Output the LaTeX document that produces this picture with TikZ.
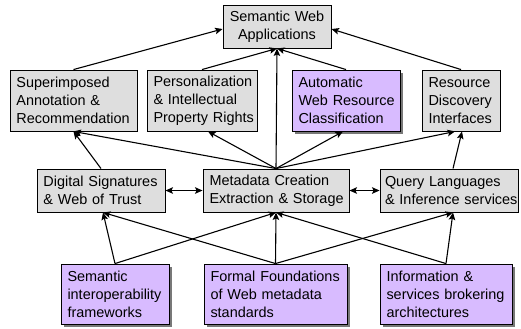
\documentclass[tikz,border=0pt]{standalone}
\usepackage{fontspec}
\setmainfont{Liberation Sans}
\usetikzlibrary{arrows.meta,shadows}

\definecolor{boxgrey}{RGB}{222,222,222}
\definecolor{lilac}{RGB}{216,187,255}
\definecolor{shadowgrey}{RGB}{120,120,120}

% one unbreakable line of box text
\newcommand{\bxl}[1]{\mbox{#1}}

\tikzset{
  box/.style={draw=black, line width=0.9bp, fill=boxgrey, inner xsep=6.5bp,
    inner ysep=0pt, align=left, font=\fontsize{14.5}{18}\selectfont},
  lilacbox/.style={box, fill=lilac,
    drop shadow={shadow xshift=3bp, shadow yshift=-3bp, fill=shadowgrey, opacity=1}},
  tip/.tip={Stealth[length=7.5bp,width=6.5bp,inset=1.5bp]},
  conn/.style={line width=1.1bp, -tip},
  biconn/.style={line width=1.1bp, tip-tip},
}

\begin{document}
\begin{tikzpicture}[x=1bp, y=-1bp]
\useasboundingbox (0,0) rectangle (521,328);

% top level
\node[box, align=center, minimum width=108bp, minimum height=43bp, text width=95bp]
  (app) at (277,26.5) {\bxl{Semantic Web}\\\bxl{Applications}};

% application layer
\node[box, minimum width=127bp, minimum height=61bp, text width=114bp]
  (sup) at (73.5,100.5) {\bxl{Superimposed}\\\bxl{Annotation \&}\\\bxl{Recommendation}};
\node[box, minimum width=110bp, minimum height=61bp, text width=97bp]
  (pers) at (202,100.5) {\bxl{Personalization}\\\bxl{\& Intellectual}\\\bxl{Property Rights}};
\node[lilacbox, minimum width=108bp, minimum height=61bp, text width=95bp]
  (auto) at (346,100.5) {\bxl{Automatic}\\\bxl{Web Resource}\\\bxl{Classification}};
\node[box, minimum width=78bp, minimum height=61bp, text width=65bp]
  (res) at (461,100.5) {\bxl{Resource}\\\bxl{Discovery}\\\bxl{Interfaces}};

% service layer
\node[box, minimum width=128bp, minimum height=43bp, text width=115bp]
  (dig) at (101,190.5) {\bxl{Digital Signatures}\\\bxl{\& Web of Trust}};
\node[box, minimum width=146bp, minimum height=43bp, text width=133bp]
  (meta) at (276,190.5) {\bxl{Metadata Creation}\\\bxl{Extraction \& Storage}};
\node[box, minimum width=138bp, minimum height=43bp, text width=128bp, inner xsep=5bp]
  (query) at (449,190.5) {\bxl{Query Languages}\\\bxl{\& Inference services}};

% foundations
\node[lilacbox, minimum width=108bp, minimum height=60bp, text width=95bp]
  (sem) at (115,294) {\bxl{Semantic}\\\bxl{interoperability}\\\bxl{frameworks}};
\node[lilacbox, minimum width=143bp, minimum height=60bp, text width=130bp]
  (formal) at (275.5,294) {\bxl{Formal Foundations}\\\bxl{of Web metadata}\\\bxl{standards}};
\node[lilacbox, minimum width=132bp, minimum height=60bp, text width=119bp]
  (info) at (446,294) {\bxl{Information \&}\\\bxl{services brokering}\\\bxl{architectures}};

% applications -> top
\draw[conn] (sup.north) -- ([yshift=-2.5bp]app.west);
\draw[conn] (pers.north) -- (app.south);
\draw[conn] (meta.north) -- (app.south);
\draw[conn] (auto.north) -- (app.south);
\draw[conn] (res.north) -- ([yshift=-2.5bp]app.east);

% services -> applications
\draw[conn] (dig.north) -- (sup.south);
\draw[conn] (meta.north) -- (sup.south);
\draw[conn] (meta.north) -- ([xshift=6bp]pers.south);
\draw[conn] (meta.north) -- ([xshift=-3bp]auto.south);
\draw[conn] (meta.north) -- ([xshift=-6bp]res.south);
\draw[conn] ([xshift=4bp]query.north) -- ([xshift=1bp]res.south);

% links between services
\draw[biconn] (dig.east) -- (meta.west);
\draw[biconn] (meta.east) -- (query.west);

% foundations -> services
\draw[conn] (sem.north) -- ([xshift=2bp]dig.south);
\draw[conn] (sem.north) -- (meta.south);
\draw[conn] (formal.north) -- ([xshift=2bp]dig.south);
\draw[conn] (formal.north) -- (meta.south);
\draw[conn] (formal.north) -- ([xshift=4bp]query.south);
\draw[conn] (info.north) -- (meta.south);
\draw[conn] (info.north) -- ([xshift=4bp]query.south);
\end{tikzpicture}
\end{document}
